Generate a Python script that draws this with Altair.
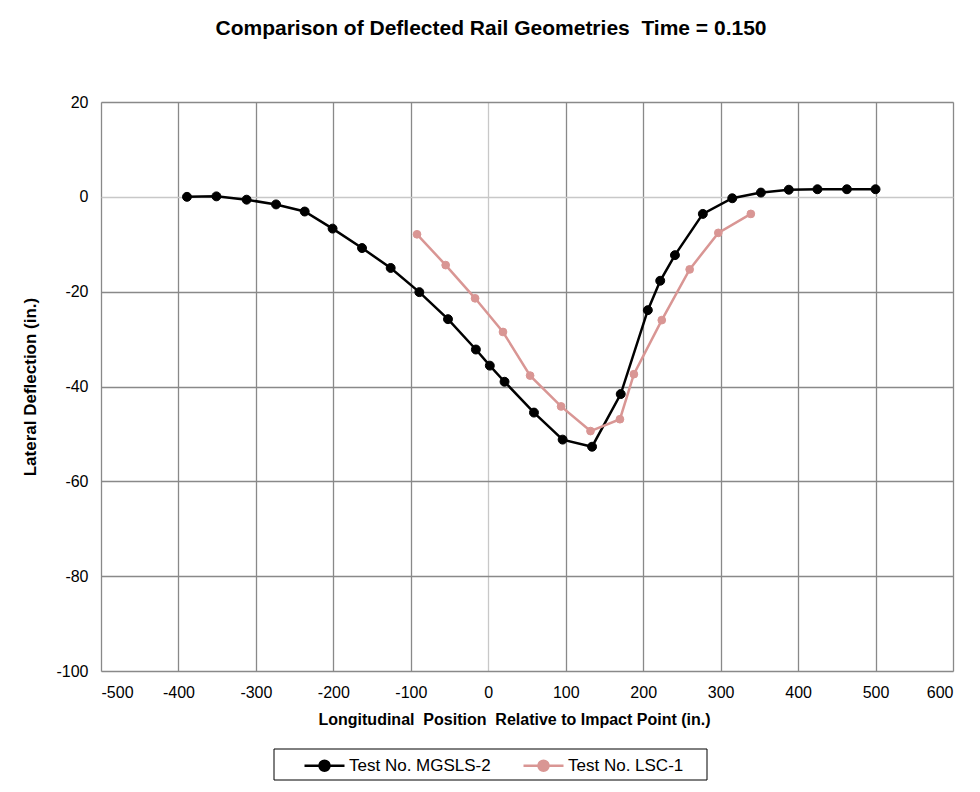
import altair as alt
import pandas as pd

# Test No. MGSLS-2
mgsls_x = [-389, -351, -312, -274, -237, -201, -163, -126, -89, -52, -16, 2, 21, 59, 96, 134, 171, 206, 222, 241, 277, 315, 352, 388, 425, 463, 500]
mgsls_y = [0.0, 0.1, -0.6, -1.6, -3.1, -6.7, -10.8, -15.0, -20.1, -25.8, -32.2, -35.6, -39.0, -45.5, -51.2, -52.7, -41.6, -23.9, -17.7, -12.3, -3.6, -0.3, 0.9, 1.5, 1.6, 1.6, 1.6]

# Test No. LSC-1
lsc_x = [-92, -55, -17, 19, 54, 94, 132, 170, 188, 224, 260, 297, 339]
lsc_y = [-7.9, -14.4, -21.4, -28.5, -37.7, -44.2, -49.4, -46.9, -37.4, -26.0, -15.3, -7.6, -3.6]

series_names = ["Test No. MGSLS-2", "Test No. LSC-1"]
series_colors = ["#000000", "#D99694"]

x_ticks = list(range(-500, 601, 100))
y_ticks = list(range(-100, 21, 20))

df = pd.concat([
    pd.DataFrame({"x": mgsls_x, "y": mgsls_y, "series": series_names[0]}),
    pd.DataFrame({"x": lsc_x, "y": lsc_y, "series": series_names[1]}),
], ignore_index=True)

FONT = "Liberation Sans, Arial, sans-serif"
NB = "\u00a0"

scale = alt.Scale(domain=series_names, range=series_colors)
path = "M-1,0H1M0.25,0A0.25,0.25,0,1,1,-0.25,0A0.25,0.25,0,1,1,0.25,0Z"
legend = alt.Legend(
    title=None, orient="none", direction="horizontal",
    legendX=202, legendY=642, padding=0,
    symbolType=path, symbolSize=1600, symbolStrokeWidth=2.5,
    labelFont=FONT, labelFontSize=17, labelColor="#000000",
    labelOffset=3, columnPadding=27,
)

grid_color = {"condition": {"test": "datum.value === 0", "value": "#c8c8c8"}, "value": "#898989"}

xenc = alt.X("x:Q", scale=alt.Scale(domain=[-500, 600], nice=False),
             axis=alt.Axis(values=x_ticks,
                           title="Longitudinal" + NB + " Position" + NB + " Relative to Impact Point (in.)",
                           labelExpr="'' + datum.value",
                           grid=True, gridColor=grid_color, gridWidth=1.3,
                           domain=False, ticks=False, labelPadding=13,
                           labelFont=FONT, labelFontSize=16, labelColor="#000000",
                           titleFont=FONT, titleFontSize=16, titleFontWeight="bold",
                           titleColor="#000000", titlePadding=11, titleX=413))
yenc = alt.Y("y:Q", scale=alt.Scale(domain=[-100, 20], nice=False),
             axis=alt.Axis(values=y_ticks, title="Lateral Deflection (in.)",
                           labelExpr="'' + datum.value",
                           grid=True, gridColor=grid_color, gridWidth=1.3,
                           domain=False, ticks=False, labelPadding=13,
                           labelFont=FONT, labelFontSize=16, labelColor="#000000",
                           titleFont=FONT, titleFontSize=17, titleFontWeight="bold",
                           titleColor="#000000", titlePadding=16))

base = alt.Chart(df)

def series_layers(name, pt_size):
    sub = base.transform_filter(alt.datum.series == name)
    ln = sub.mark_line(strokeWidth=2.5).encode(
        x=xenc, y=yenc,
        stroke=alt.Stroke("series:N", scale=scale, legend=legend),
    )
    pt = sub.mark_point(shape="circle", filled=True, opacity=1, size=pt_size, strokeWidth=1).encode(
        x="x:Q", y="y:Q",
        fill=alt.Fill("series:N", scale=scale, legend=legend),
        stroke=alt.Stroke("series:N", scale=scale, legend=legend),
    )
    return [ln, pt]

frame = alt.Chart(pd.DataFrame({"a": [0]})).mark_rect(
    fill=None, stroke="#000000", strokeWidth=1
).encode(x=alt.value(173), x2=alt.value(606), y=alt.value(647), y2=alt.value(678))

chart = alt.layer(*series_layers(series_names[0], 80), *series_layers(series_names[1], 60), frame).properties(
    width=852, height=569,
    autosize=alt.AutoSizeParams(type="none"),
    padding={"left": 93, "top": 94, "right": 19, "bottom": 113},
    title=alt.Title("Comparison of Deflected Rail Geometries" + NB + " Time = 0.150",
                    font=FONT, fontSize=21, fontWeight="bold", color="#000000",
                    anchor="middle", dx=-36, offset=55),
).configure_view(stroke="#898989", strokeWidth=1.3).configure(background="white")

chart.save("out.html", embed_options={"renderer": "svg", "actions": False})
